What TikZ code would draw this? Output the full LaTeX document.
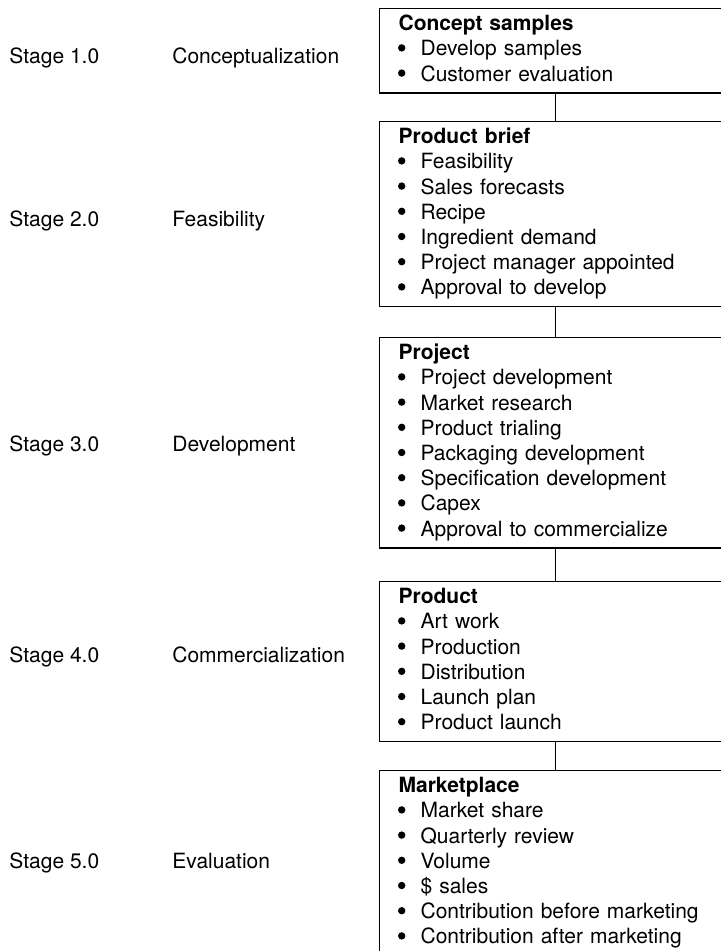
\documentclass[tikz,border=0pt]{standalone}
\usepackage{fontspec}
\setmainfont{TeX Gyre Heros}
\newcommand{\itm}[1]{\hspace*{11pt}#1\strut}
\newcommand{\ttl}[1]{\textbf{#1}\strut}
\tikzset{
    stagebox/.style={draw, line width=0.6pt, anchor=north west, text width=157pt,
        align=left, inner xsep=9.5pt, inner ysep=2.2pt,
        font=\fontsize{10.5}{12.6}\selectfont},
    stagetext/.style={anchor=base west, inner sep=0pt,
        font=\fontsize{10.5}{12.6}\selectfont}
}
\begin{document}
\begin{tikzpicture}[x=0.5pt, y=-0.5pt]
    \useasboundingbox (0,0) rectangle (720,951);

    % Stage boxes
    \node[stagebox] (concept) at (379,8) {\ttl{Concept samples}\\
        \itm{Develop samples}\\ \itm{Customer evaluation}};
    \node[stagebox] (brief) at (379,121) {\ttl{Product brief}\\
        \itm{Feasibility}\\ \itm{Sales forecasts}\\ \itm{Recipe}\\
        \itm{Ingredient demand}\\ \itm{Project manager appointed}\\
        \itm{Approval to develop}};
    \node[stagebox] (project) at (379,337) {\ttl{Project}\\
        \itm{Project development}\\ \itm{Market research}\\
        \itm{Product trialing}\\ \itm{Packaging development}\\
        \itm{Specification development}\\ \itm{Capex}\\
        \itm{Approval to commercialize}};
    \node[stagebox] (product) at (379,581) {\ttl{Product}\\
        \itm{Art work}\\ \itm{Production}\\ \itm{Distribution}\\
        \itm{Launch plan}\\ \itm{Product launch}};
    \node[stagebox] (market) at (379,770) {\ttl{Marketplace}\\
        \itm{Market share}\\ \itm{Quarterly review}\\ \itm{Volume}\\
        \itm{\$ sales}\\ \itm{Contribution before marketing}\\
        \itm{Contribution after marketing}};

    % Bullets
    \foreach \b/\n in {concept/2, brief/6, project/7, product/5, market/6}
        \foreach \k in {1,...,\n}
            \fill ([shift={(22.7, 14.7+25.2*\k)}]\b.north west) circle[radius=3.7];

    % Links
    \draw[line width=0.6pt] (concept.south) -- (brief.north);
    \draw[line width=0.6pt] (brief.south) -- (project.north);
    \draw[line width=0.6pt] (project.south) -- (product.north);
    \draw[line width=0.6pt] (product.south) -- (market.north);

    % Stage labels
    \node[stagetext] (s1) at (9,64) {Stage 1.0};
    \node[stagetext] (n1) at (172,64) {Conceptualization};
    \node[stagetext] (s2) at (9,227) {Stage 2.0};
    \node[stagetext] (n2) at (172,227) {Feasibility};
    \node[stagetext] (s3) at (9,451) {Stage 3.0};
    \node[stagetext] (n3) at (172,451) {Development};
    \node[stagetext] (s4) at (9,662) {Stage 4.0};
    \node[stagetext] (n4) at (172,662) {Commercialization};
    \node[stagetext] (s5) at (9,868) {Stage 5.0};
    \node[stagetext] (n5) at (172,868) {Evaluation};
\end{tikzpicture}
\end{document}
